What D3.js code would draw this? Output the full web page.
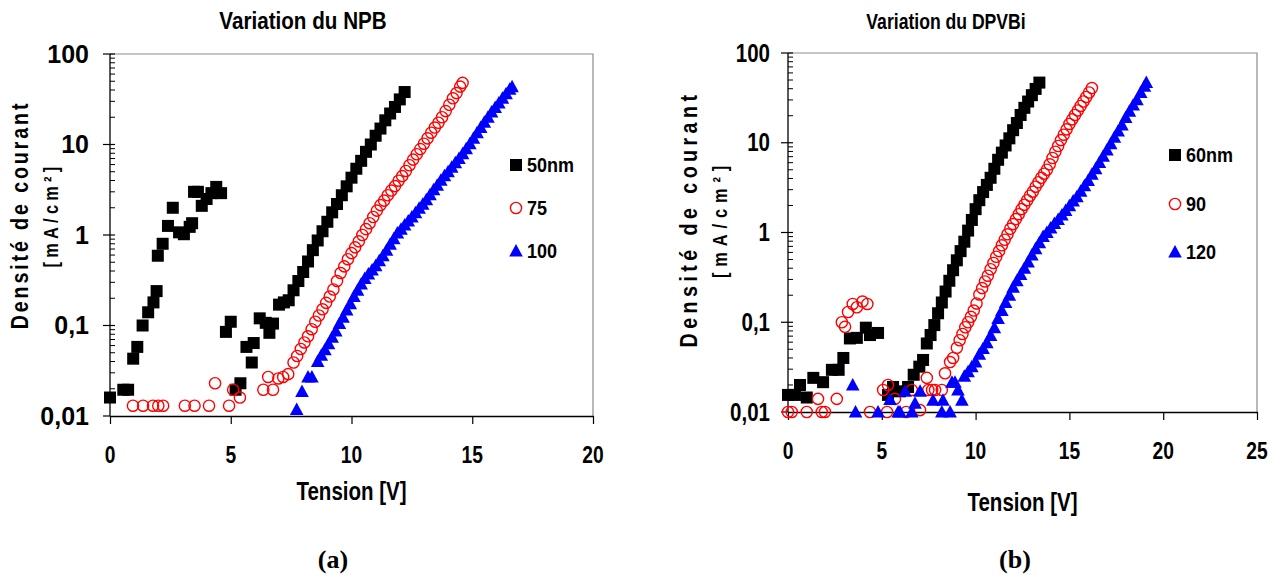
<!DOCTYPE html>
<html><head><meta charset="utf-8">
<script src="https://cdn.jsdelivr.net/npm/d3@7"></script>
<style>body{margin:0;background:#fff}svg{display:block}</style>
</head><body>
<svg id="c" width="1282" height="577"></svg>
<script>
// ---------- DATA ----------
const xTicksNPB = [0, 5, 10, 15, 20];
const xTicksDPVBi = [0, 5, 10, 15, 20, 25];
const yTicks = [0.01, 0.1, 1, 10, 100];
const yTickLabels = ["0,01", "0,1", "1", "10", "100"];
const legendNPB = ["50nm", "75", "100"];
const legendDPVBi = ["60nm", "90", "120"];

// (a) Variation du NPB : [Tension V, J mA/cm2]
const npb50 = [[0,0.016],[0.55,0.0195],[0.75,0.0195],[0.96,0.043],[1.13,0.058],[1.35,0.1],[1.58,0.14],[1.8,0.18],[1.93,0.24],[1.98,0.59],[2.18,0.8],[2.4,1.26],[2.6,2.0],[2.86,1.07],[3.06,1.02],[3.3,1.23],[3.4,1.35],[3.48,3.0],[3.64,3.0],[3.8,2.1],[4.0,2.5],[4.2,2.9],[4.4,3.4],[4.6,2.9],[4.8,0.085],[5.0,0.11],[5.2,0.0195],[5.4,0.023],[5.65,0.058],[5.87,0.039],[5.95,0.064],[6.2,0.12],[6.45,0.107],[6.6,0.083],[6.75,0.105],[7.0,0.17],[7.2,0.18],[7.4,0.19],[7.6,0.245],[7.8,0.31],[8.0,0.39],[8.2,0.51],[8.4,0.68],[8.6,0.87],[8.8,1.1],[9.0,1.4],[9.2,1.78],[9.4,2.2],[9.6,2.75],[9.8,3.45],[10.0,4.3],[10.2,5.4],[10.4,6.6],[10.6,8.3],[10.8,10],[11.0,12.5],[11.2,15],[11.4,18.5],[11.6,22],[11.8,26],[12.0,31.5],[12.2,38]];
const npb75 = [[0.95,0.013],[1.37,0.013],[1.78,0.013],[2.0,0.013],[2.2,0.013],[3.1,0.013],[3.5,0.013],[4.1,0.013],[4.35,0.023],[4.93,0.013],[5.1,0.0195],[5.38,0.016],[6.35,0.0195],[6.55,0.027],[6.75,0.0195],[6.97,0.026],[7.17,0.027],[7.38,0.029],[7.6,0.039],[7.75,0.046],[7.9,0.055],[8.05,0.065],[8.2,0.076],[8.35,0.091],[8.5,0.11],[8.65,0.129],[8.8,0.151],[8.95,0.178],[9.1,0.209],[9.25,0.25],[9.4,0.31],[9.55,0.38],[9.7,0.45],[9.85,0.54],[10.0,0.63],[10.15,0.73],[10.3,0.85],[10.45,1.0],[10.6,1.16],[10.75,1.35],[10.9,1.58],[11.05,1.86],[11.2,2.14],[11.35,2.4],[11.5,2.75],[11.65,3.1],[11.8,3.47],[11.95,3.98],[12.1,4.47],[12.25,5.1],[12.4,5.9],[12.55,6.8],[12.7,7.8],[12.85,8.9],[13.0,10.2],[13.15,11.7],[13.3,13.5],[13.45,15.4],[13.6,17.4],[13.75,20],[13.9,23.4],[14.05,27.5],[14.2,32.4],[14.35,37],[14.5,43.6],[14.6,48]];
const npb100 = [[7.73,0.0118],[7.95,0.0186],[8.2,0.027],[8.36,0.027],[8.6,0.04],[8.75,0.047],[8.9,0.054],[9.05,0.063],[9.2,0.074],[9.35,0.087],[9.5,0.105],[9.65,0.123],[9.8,0.148],[9.95,0.174],[10.1,0.209],[10.25,0.245],[10.4,0.288],[10.55,0.33],[10.7,0.37],[10.85,0.41],[11.0,0.457],[11.15,0.52],[11.3,0.59],[11.45,0.68],[11.6,0.79],[11.75,0.91],[11.9,1.05],[12.05,1.16],[12.2,1.29],[12.35,1.43],[12.5,1.58],[12.65,1.76],[12.8,1.97],[12.95,2.19],[13.1,2.45],[13.25,2.79],[13.4,3.16],[13.55,3.55],[13.7,4.03],[13.85,4.52],[14.0,5.0],[14.15,5.6],[14.3,6.3],[14.45,7.0],[14.6,7.9],[14.75,9.0],[14.9,10.2],[15.05,11.7],[15.2,13.5],[15.35,15.4],[15.5,17.6],[15.65,20],[15.8,22.9],[15.95,25.7],[16.1,28.8],[16.25,32.4],[16.4,36.3],[16.55,40.7],[16.65,43.6]];

// (b) Variation du DPVBi
const dpvbi60 = [[0,0.0155],[0.37,0.0155],[0.64,0.02],[1.0,0.0145],[1.35,0.024],[1.87,0.0215],[2.34,0.0295],[2.7,0.0295],[2.95,0.04],[3.3,0.066],[3.67,0.067],[4.15,0.087],[4.37,0.072],[4.8,0.076],[5.33,0.0155],[5.6,0.019],[5.97,0.017],[6.4,0.019],[6.7,0.026],[7.0,0.032],[7.2,0.038],[7.4,0.058],[7.6,0.072],[7.8,0.093],[8.0,0.126],[8.2,0.166],[8.4,0.22],[8.6,0.29],[8.8,0.38],[9.0,0.49],[9.2,0.62],[9.4,0.79],[9.6,1.05],[9.8,1.38],[10.0,1.82],[10.2,2.29],[10.4,2.82],[10.6,3.39],[10.8,4.07],[11.0,5.13],[11.2,6.46],[11.4,7.76],[11.6,9.33],[11.8,11.2],[12.0,13.8],[12.2,16.6],[12.4,20.4],[12.6,24.5],[12.8,28.8],[13.0,33.9],[13.2,39.8],[13.4,46.8]];
const dpvbi90 = [[0,0.01],[0.2,0.01],[1.0,0.01],[1.6,0.014],[1.8,0.01],[1.97,0.01],[2.6,0.014],[2.87,0.1],[3.04,0.089],[3.2,0.13],[3.45,0.16],[3.67,0.147],[3.97,0.17],[4.23,0.16],[4.37,0.01],[5.07,0.0176],[5.28,0.01],[5.33,0.02],[5.7,0.014],[6.3,0.01],[6.6,0.0176],[7.04,0.0105],[7.4,0.024],[7.48,0.0176],[7.68,0.0176],[7.84,0.0176],[8.2,0.0176],[8.37,0.027],[8.64,0.036],[8.8,0.04],[9.0,0.052],[9.15,0.063],[9.3,0.074],[9.45,0.088],[9.6,0.1],[9.75,0.115],[9.9,0.135],[10.05,0.162],[10.2,0.204],[10.35,0.24],[10.5,0.285],[10.65,0.33],[10.8,0.39],[10.95,0.457],[11.1,0.537],[11.25,0.62],[11.4,0.72],[11.55,0.83],[11.7,0.955],[11.85,1.1],[12.0,1.24],[12.15,1.41],[12.3,1.6],[12.45,1.82],[12.6,2.04],[12.75,2.29],[12.9,2.57],[13.05,2.85],[13.2,3.24],[13.35,3.63],[13.5,4.07],[13.65,4.52],[13.8,5.0],[13.95,5.75],[14.1,6.76],[14.25,7.94],[14.4,9.2],[14.55,10.7],[14.7,12.3],[14.85,14.1],[15.0,16.2],[15.15,18.2],[15.3,20.4],[15.45,22.9],[15.6,25.7],[15.75,28.8],[15.9,32.4],[16.05,36.3],[16.2,40.7]];
const dpvbi120 = [[3.45,0.02],[3.6,0.01],[4.8,0.01],[5.44,0.0138],[5.87,0.01],[5.97,0.01],[6.24,0.017],[6.6,0.01],[6.77,0.0125],[7.04,0.017],[7.73,0.0135],[8.2,0.01],[8.26,0.0135],[8.64,0.01],[8.74,0.0215],[8.9,0.0215],[9.06,0.0176],[9.27,0.0135],[9.4,0.025],[9.6,0.028],[9.8,0.032],[10.0,0.036],[10.2,0.044],[10.4,0.051],[10.6,0.059],[10.8,0.071],[11.0,0.087],[11.2,0.11],[11.4,0.135],[11.6,0.166],[11.8,0.2],[12.0,0.245],[12.2,0.29],[12.4,0.34],[12.6,0.4],[12.8,0.47],[13.0,0.56],[13.2,0.66],[13.4,0.77],[13.6,0.9],[13.8,1.0],[14.0,1.12],[14.2,1.26],[14.4,1.4],[14.6,1.57],[14.8,1.76],[15.0,1.98],[15.2,2.24],[15.4,2.51],[15.6,2.88],[15.8,3.31],[16.0,3.8],[16.2,4.47],[16.4,5.13],[16.6,6.03],[16.8,7.08],[17.0,8.32],[17.2,9.77],[17.4,11.5],[17.6,13.5],[17.8,15.8],[18.0,19.1],[18.2,22.4],[18.4,26.3],[18.6,30.2],[18.8,36.3],[19.0,42.7],[19.1,46.8]];

// ---------- DRAWING ----------
const svg = d3.select("#c");
const SANS = "'Liberation Sans', Arial, sans-serif";
const SERIF = "'Liberation Serif', 'Times New Roman', serif";

function txt(g, x, y, s, o) {
  o = o || {};
  const t = g.append("text")
    .attr("transform", `translate(${x},${y})` + (o.rot ? ` rotate(${o.rot})` : "") + ` scale(${o.sx || 1},1)`)
    .attr("text-anchor", o.anchor || "middle")
    .attr("font-family", o.family || SANS)
    .attr("font-weight", "bold")
    .attr("font-size", o.size || 20)
    .attr("fill", "#000")
    .text(s);
  if (o.ls) t.attr("letter-spacing", o.ls);
  return t;
}

const markers = [
  (g, x, y) => g.append("rect").attr("x", x - 6).attr("y", y - 6).attr("width", 12).attr("height", 12).attr("fill", "#000"),
  (g, x, y) => g.append("circle").attr("cx", x).attr("cy", y).attr("r", 5.6).attr("fill", "none").attr("stroke", "#ff0000").attr("stroke-width", 1.4),
  (g, x, y) => g.append("path").attr("d", `M${x},${y - 7}L${x + 6.8},${y + 5.5}L${x - 6.8},${y + 5.5}Z`).attr("fill", "#0000ff")
];

const panels = [
  { title: "Variation du NPB", titleX: 303, titleSize: 24, titleSx: 0.86, xmax: 20, xticks: xTicksNPB,
    x0: 110, x1: 593, yb: 416, yt: 54, series: [npb50, npb75, npb100], legend: legendNPB,
    legX: 516, legY: [165, 208, 251], ytickSx: 1, ytGap: 21,
    yt1X: 28, yt2X: 58, ytY: 215, ls1: 3.5, ls2: 5.2, tensionY: 500, label: "(a)", labelX: 333 },
  { title: "Variation du DPVBi", titleX: 946, titleSize: 22, titleSx: 0.8, xmax: 25, xticks: xTicksDPVBi,
    x0: 788, x1: 1257, yb: 412, yt: 53, series: [dpvbi60, dpvbi90, dpvbi120], legend: legendDPVBi,
    legX: 1175, legY: [155, 204, 252], ytickSx: 0.82, ytGap: 18,
    yt1X: 697, yt2X: 727, ytY: 219, ls1: 5.4, ls2: 7.2, tensionY: 511, label: "(b)", labelX: 1015 }
];

panels.forEach(p => {
  const g = svg.append("g");
  const x = d3.scaleLinear().domain([0, p.xmax]).range([p.x0, p.x1]);
  const y = d3.scaleLog().domain([0.01, 100]).range([p.yb, p.yt]);

  // frame (top & right, grey)
  g.append("path").attr("d", `M${p.x0},${p.yt}H${p.x1}V${p.yb}`)
    .attr("fill", "none").attr("stroke", "#8c8c8c").attr("stroke-width", 1.2);

  // x axis
  const xa = g.append("g").attr("transform", `translate(0,${p.yb})`)
    .call(d3.axisBottom(x).tickValues(p.xticks).tickSize(8).tickSizeOuter(0).tickFormat(""));
  xa.select(".domain").attr("stroke", "#000").attr("stroke-width", 1.3);
  xa.selectAll(".tick line").attr("stroke", "#000").attr("stroke-width", 1.2);
  p.xticks.forEach(v => txt(g, x(v), p.yb + 47, String(v), { size: 24, sx: 0.8 }));

  // y axis: domain + major ticks (crossing) + minor ticks (inside)
  g.append("line").attr("x1", p.x0).attr("x2", p.x0).attr("y1", p.yt).attr("y2", p.yb)
    .attr("stroke", "#000").attr("stroke-width", 1.3);
  yTicks.forEach((v, i) => {
    g.append("line").attr("x1", p.x0 - 7).attr("x2", p.x0 + (i === 0 ? 0 : 5))
      .attr("y1", y(v)).attr("y2", y(v)).attr("stroke", "#000").attr("stroke-width", 1.2);
    txt(g, p.x0 - p.ytGap, y(v) + 8.5, yTickLabels[i], { size: 25, anchor: "end", sx: p.ytickSx });
  });
  const minor = [];
  for (let d = 0; d < 4; d++) for (let k = 2; k <= 9; k++) minor.push(k * Math.pow(10, d - 2));
  g.selectAll(".mn").data(minor).enter().append("line")
    .attr("x1", p.x0).attr("x2", p.x0 + 5)
    .attr("y1", d => y(d)).attr("y2", d => y(d))
    .attr("stroke", "#000").attr("stroke-width", 1);

  // series
  p.series.forEach((s, si) => {
    s.forEach(d => markers[si](g, x(d[0]), y(d[1])));
  });

  // legend
  p.legend.forEach((l, i) => {
    markers[i](g, p.legX, p.legY[i]);
    txt(g, p.legX + 11, p.legY[i] + 7, l, { size: 20, anchor: "start", sx: 0.9 });
  });

  // titles
  txt(svg, p.titleX, 29, p.title, { size: p.titleSize, sx: p.titleSx });
  txt(svg, (p.x0 + p.x1) / 2, p.tensionY, "Tension [V]", { size: 25, sx: 0.82 });
  txt(svg, p.yt1X, p.ytY, "Densité de courant", { size: 24, sx: 0.82, rot: -90, ls: p.ls1 });
  txt(svg, p.yt2X, p.ytY, "[mA/cm²]", { size: 20, sx: 0.82, rot: -90, ls: p.ls2 });
  txt(svg, p.labelX, 568, p.label, { size: 26, family: SERIF });
});
</script>
</body></html>
